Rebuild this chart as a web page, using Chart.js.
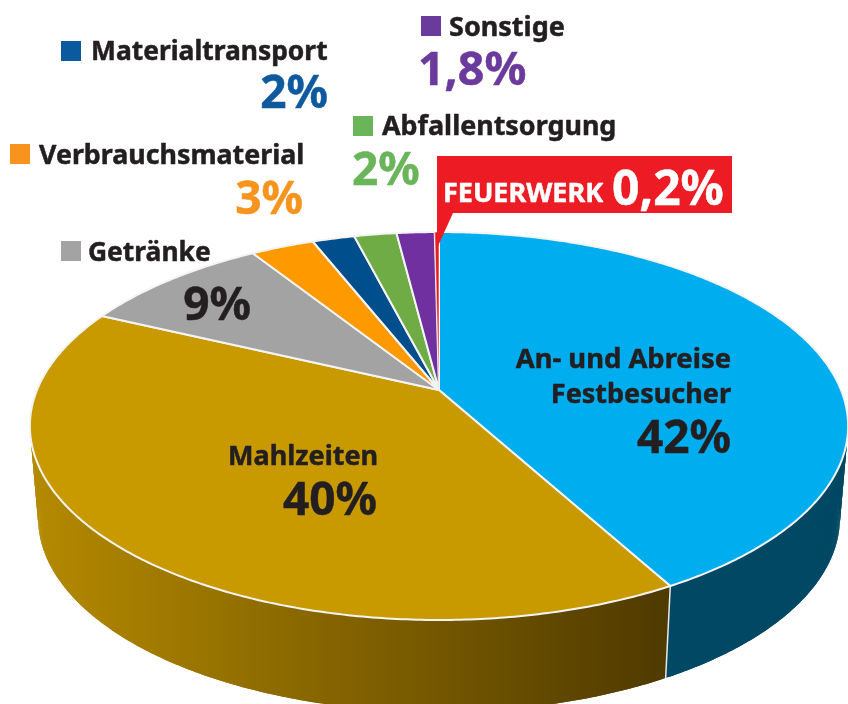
<!DOCTYPE html>
<html lang="de">
<head>
<meta charset="utf-8">
<title>Kreisdiagramm</title>
<script src="https://cdn.jsdelivr.net/npm/chart.js@4"></script>
<style>
  html, body { margin: 0; padding: 0; background: #fff; overflow: hidden; }
  #pie { display: block; }
</style>
</head>
<body>
<canvas id="pie" width="848" height="704"></canvas>
<script>
// ===== DATA =====
const categories = ['An- und Abreise Festbesucher', 'Mahlzeiten', 'Getränke', 'Verbrauchsmaterial',
                    'Materialtransport', 'Abfallentsorgung', 'Sonstige', 'Feuerwerk'];
const shares = [42, 40, 9, 3, 2, 2, 1.8, 0.2];
const sliceColors = ['#00adef', '#c99a00', '#a3a3a3', '#ff9900', '#004e8c', '#6fac46', '#7030a0', '#ed1c24'];

const pct = i => shares[i].toLocaleString('de-DE') + '%';

// ===== TEXT LAYOUT =====
const DARK = '#231f20';
const FONT = '"Noto Sans", sans-serif';
const legendTexts = [
  // text, x, baseline, size, align, color
  ['Materialtransport', 91, 60, 26.4, 'left', DARK],
  [pct(4), 328, 108, 46, 'right', '#0f5a9e'],
  ['Sonstige', 449, 36, 27, 'left', DARK],
  [pct(6), 418, 85, 46.5, 'left', '#6a3a9c'],
  ['Abfallentsorgung', 382, 135, 26.9, 'left', DARK],
  [pct(5), 352, 185, 46, 'left', '#6ab55a'],
  ['Verbrauchsmaterial', 39, 164, 26.8, 'left', DARK],
  [pct(3), 303, 214, 46, 'right', '#f7941d'],
  ['Getränke', 88, 261, 26.4, 'left', DARK],
  [pct(2), 251, 320, 46, 'right', DARK],
  ['Mahlzeiten', 228, 465, 27, 'left', DARK],
  [pct(1), 377, 515, 46, 'right', DARK],
  ['An- und Abreise', 731, 368, 27.4, 'right', DARK],
  ['Festbesucher', 731, 403, 27, 'right', DARK],
  [pct(0), 731, 453, 46, 'right', DARK],
  ['FEUERWERK', 443, 202, 27, 'left', '#fff'],
  [pct(7), 612, 205, 48, 'left', '#fff'],
];
const legendSquares = [
  [61, 41, '#0b5a9e'],
  [421, 16, '#6a3a9c'],
  [353, 116, '#6ab55a'],
  [10, 144, '#f7941d'],
  [61, 241, '#a3a3a3'],
];

// ======== PERSPECTIVE ========
// the pie lies tilted, so rim and hub do not share one ellipse centre
const HUB_X = 439, HUB_Y = 390, RX = 402, RY = 187.3, TILT = -0.1856;
function project(angle) {
  const u = Math.cos(angle), v = Math.sin(angle), d = 1 + TILT * v;
  return [HUB_X + RX * u / d, HUB_Y + RY * v / d];
}
function lowerRim(angle) {
  const [x, y] = project(angle);
  return [HUB_X + (x - HUB_X) * 0.98, y + 92];
}
function rimPoints(start, end, fn) {
  const pts = [];
  const n = Math.max(2, Math.ceil((end - start) / 0.01));
  for (let i = 0; i <= n; i++) pts.push(fn(start + (end - start) * i / n));
  return pts;
}

// ======== DRAWING ========
const tiltedPie = {
  id: 'tiltedPie',
  beforeDatasetsDraw(chart) {
    const ctx = chart.ctx;
    const arcs = chart.getDatasetMeta(0).data;
    const gold = ctx.createLinearGradient(30, 0, 666, 0);
    gold.addColorStop(0, '#b58a00');
    gold.addColorStop(1, '#4f3a00');
    const wallFill = ['#004864', gold];

    // side wall, only the two front slices can be seen
    // overlapping strips: no seams, and the straight silhouette at both ends comes out
    [0, 1].forEach(i => {
      const a = arcs[i];
      const top = rimPoints(a.startAngle, a.endAngle, project);
      const low = rimPoints(a.startAngle, a.endAngle, lowerRim);
      ctx.fillStyle = wallFill[i];
      for (let j = 0; j < top.length - 2; j++) {
        ctx.beginPath();
        ctx.moveTo(top[j][0], top[j][1]);
        ctx.lineTo(top[j + 1][0], top[j + 1][1]);
        ctx.lineTo(top[j + 2][0], top[j + 2][1]);
        ctx.lineTo(low[j + 2][0], low[j + 2][1]);
        ctx.lineTo(low[j + 1][0], low[j + 1][1]);
        ctx.lineTo(low[j][0], low[j][1]);
        ctx.closePath();
        ctx.fill();
      }
    });
    // seam between the walls
    const seamA = arcs[0].endAngle;
    const s0 = project(seamA), s1 = lowerRim(seamA);
    ctx.beginPath();
    ctx.moveTo(s0[0], s0[1]);
    ctx.lineTo(s1[0], s1[1]);
    ctx.strokeStyle = '#e8e8e8';
    ctx.lineWidth = 1.5;
    ctx.stroke();

    // top face
    arcs.forEach((a, i) => {
      ctx.beginPath();
      ctx.moveTo(HUB_X, HUB_Y);
      rimPoints(a.startAngle, a.endAngle, project).forEach(p => ctx.lineTo(p[0], p[1]));
      ctx.closePath();
      ctx.fillStyle = sliceColors[i];
      ctx.fill();
      ctx.strokeStyle = '#f4f4f4';
      ctx.lineWidth = i === 7 ? 0.6 : 2;
      ctx.lineJoin = 'round';
      ctx.stroke();
    });
    return false;
  },
  afterDraw(chart) {
    const ctx = chart.ctx;
    // red callout for the smallest slice
    ctx.beginPath();
    ctx.moveTo(437, 156);
    ctx.lineTo(732, 156);
    ctx.lineTo(732, 213);
    ctx.lineTo(453, 213);
    ctx.lineTo(438, 246);
    ctx.lineTo(437, 246);
    ctx.closePath();
    ctx.fillStyle = '#ed1c24';
    ctx.fill();

    legendSquares.forEach(([x, y, c]) => {
      ctx.fillStyle = c;
      ctx.fillRect(x, y, 20, 20);
    });
    ctx.textBaseline = 'alphabetic';
    ctx.lineJoin = 'round';
    legendTexts.forEach(([text, x, y, size, align, color]) => {
      ctx.font = `bold ${size}px ${FONT}`;
      ctx.textAlign = align;
      ctx.fillStyle = color;
      ctx.strokeStyle = color;
      ctx.lineWidth = 0.5;
      ctx.fillText(text, x, y);
      ctx.strokeText(text, x, y);
    });
  },
};

new Chart(document.getElementById('pie'), {
  type: 'pie',
  data: {
    labels: categories,
    datasets: [{ data: shares, backgroundColor: sliceColors }],
  },
  options: {
    responsive: false,
    animation: false,
    events: [],
    plugins: { legend: { display: false }, tooltip: { enabled: false } },
  },
  plugins: [tiltedPie],
});
</script>
</body>
</html>
